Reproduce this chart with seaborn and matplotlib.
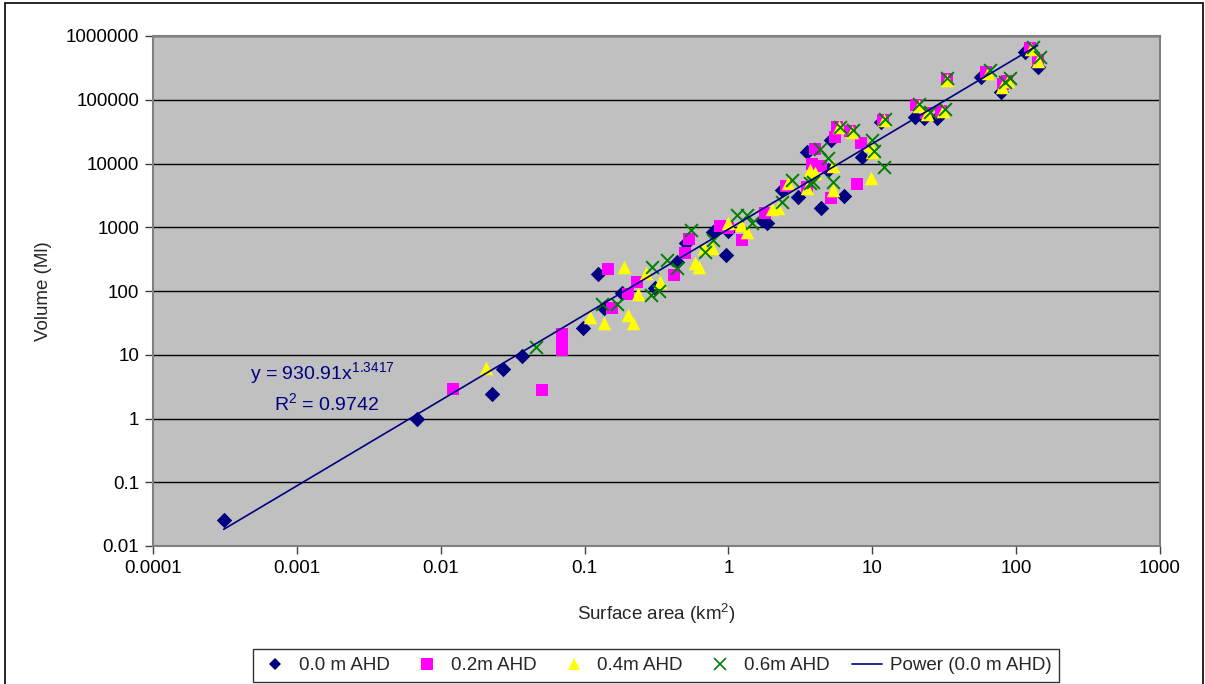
import numpy as np
import pandas as pd
import matplotlib
matplotlib.use("Agg")
import matplotlib.pyplot as plt
import seaborn as sns
from matplotlib.lines import Line2D
from matplotlib.patches import Rectangle
from matplotlib.ticker import FixedLocator, FixedFormatter, NullLocator

# ---------------- data ----------------
area_00 = [0.00031, 0.0068, 0.0227, 0.027, 0.037, 0.097, 0.124, 0.136, 0.182, 0.31,
           0.44, 0.51, 0.78, 0.96, 1.0, 1.7, 1.85, 2.35, 3.03, 3.5, 4.4, 4.95, 5.2,
           6.4, 8.5, 11.5, 19.8, 23, 28, 57, 78, 115, 141]
vol_00 = [0.026, 1.0, 2.4, 6.0, 9.5, 26, 185, 54, 93, 110,
          285, 570, 840, 367, 870, 1300, 1150, 3800, 2980, 15000, 2000, 8000, 23000,
          3100, 12600, 45000, 54000, 52000, 52000, 230000, 132000, 560000, 330000]

area_02 = [0.0122, 0.0505, 0.07, 0.07, 0.07, 0.145, 0.155, 0.2, 0.23, 0.42, 0.50,
           0.53, 0.87, 1.0, 1.24, 1.8, 2.5, 3.5, 3.8, 4.0, 4.4, 5.2, 5.5, 5.7, 7.0,
           7.8, 8.3, 11.8, 20, 23.6, 30, 33, 62, 81, 86, 124, 141]
vol_02 = [2.9, 2.8, 21, 15, 12, 221, 54, 90, 138, 178, 400,
          650, 1050, 970, 630, 1700, 4400, 4300, 10000, 17000, 9300, 2900, 26000, 37000, 32000,
          4800, 21000, 48000, 83000, 62000, 66000, 210000, 275000, 175000, 200000, 640000, 420000]

area_04 = [0.0206, 0.109, 0.136, 0.188, 0.2, 0.217, 0.234, 0.267, 0.333, 0.59, 0.62,
           0.68, 0.77, 1.0, 1.22, 1.35, 2.0, 2.2, 2.6, 3.5, 3.7, 4.0, 5.3, 5.3, 5.9,
           7.2, 9.6, 10, 9.8, 12, 21, 24, 31, 33, 64, 80, 88, 126, 143]
vol_04 = [6.2, 39, 32, 238, 42, 31.5, 90, 191, 138, 275, 240,
          480, 470, 1150, 1100, 840, 1900, 2000, 5000, 4200, 8000, 7000, 3800, 9300, 37000,
          31000, 19500, 15000, 6000, 48000, 80000, 60000, 67000, 205000, 265000, 160000, 195000, 620000, 410000]

area_06 = [0.046, 0.133, 0.168, 0.29, 0.294, 0.33, 0.373, 0.438, 0.548, 0.69, 0.78,
           1.15, 1.35, 1.45, 2.35, 2.75, 3.7, 3.9, 4.3, 4.9, 5.3, 6.0, 7.3, 10, 10.3,
           12, 12.2, 21, 25, 32, 33, 66, 83, 90, 130, 146]
vol_06 = [13.2, 62, 62, 85, 238, 100, 306, 233, 906, 410, 620,
          1560, 1560, 1150, 2490, 5500, 5000, 5200, 17000, 12000, 5200, 37000, 33000, 23000, 15500,
          8800, 50000, 85000, 65000, 72000, 220000, 290000, 190000, 220000, 680000, 460000]

series_names = ["0.0 m AHD", "0.2m AHD", "0.4m AHD", "0.6m AHD"]
trend_name = "Power (0.0 m AHD)"
fit_a = 930.91
fit_b = 1.3417
fit_r2 = 0.9742

x_ticks = [0.0001, 0.001, 0.01, 0.1, 1, 10, 100, 1000]
x_tick_labels = ["0.0001", "0.001", "0.01", "0.1", "1", "10", "100", "1000"]
y_ticks = [0.01, 0.1, 1, 10, 100, 1000, 10000, 100000, 1000000]
y_tick_labels = ["0.01", "0.1", "1", "10", "100", "1000", "10000", "100000", "1000000"]

# ---------------- style ----------------
sns.set_theme(style="white")
plt.rcParams["font.family"] = ["Liberation Sans", "DejaVu Sans"]
plt.rcParams["mathtext.default"] = "regular"

FS = 13.5
colors = ["#000080", "#FF00FF", "#FFFF00", "#008000"]
markers = ["D", "s", "^", "x"]
sizes = [62, 70, 95, 85]

fig = plt.figure(figsize=(12.05, 6.84), dpi=100)
fig.patch.set_facecolor("white")
ax = fig.add_axes([153 / 1205, 1 - 546 / 684, (1160 - 153) / 1205, (546 - 36) / 684])
ax.set_facecolor("#C0C0C0")

frames = []
for name, xs, ys in zip(series_names, [area_00, area_02, area_04, area_06],
                        [vol_00, vol_02, vol_04, vol_06]):
    frames.append(pd.DataFrame({"area": xs, "volume": ys, "series": name}))
df = pd.concat(frames, ignore_index=True)

for name, c, m, s in zip(series_names, colors, markers, sizes):
    sub = df[df["series"] == name]
    if m == "x":
        sns.scatterplot(data=sub, x="area", y="volume", ax=ax, color=c, marker=m,
                        s=s, linewidth=1.4, zorder=3, legend=False)
    else:
        sns.scatterplot(data=sub, x="area", y="volume", ax=ax, color=c, marker=m,
                        s=s, linewidth=0, zorder=3, legend=False)

# power trendline through the 0.0 m AHD data range
fit_x = np.geomspace(min(area_00), max(area_00), 200)
fit_y = fit_a * fit_x ** fit_b
ax.plot(fit_x, fit_y, color="#000080", lw=1.2, zorder=4)

ax.set_xscale("log")
ax.set_yscale("log")
ax.set_xlim(1e-4, 1e3)
ax.set_ylim(1e-2, 1e6)
ax.xaxis.set_major_locator(FixedLocator(x_ticks))
ax.xaxis.set_major_formatter(FixedFormatter(x_tick_labels))
ax.yaxis.set_major_locator(FixedLocator(y_ticks))
ax.yaxis.set_major_formatter(FixedFormatter(y_tick_labels))
ax.xaxis.set_minor_locator(NullLocator())
ax.yaxis.set_minor_locator(NullLocator())

ax.grid(True, axis="y", color="black", lw=1.0)
ax.grid(False, axis="x")
ax.set_axisbelow(True)

for side in ["top", "right", "left", "bottom"]:
    ax.spines[side].set_color("#808080")
    ax.spines[side].set_linewidth(1.5)

ax.tick_params(axis="both", which="major", direction="out", length=6, width=1,
               color="#404040", labelsize=FS, labelcolor="black", pad=4,
               left=True, bottom=True)

ax.set_xlabel("Surface area (km$^{2}$)", fontsize=FS, labelpad=18)
ax.set_ylabel("Volume (Ml)", fontsize=FS, labelpad=10)

ax.text(0.168, 0.339, "y = 930.91x$^{1.3417}$", transform=ax.transAxes, ha="center",
        va="center", fontsize=FS + 0.5, color="#000080")
ax.text(0.172, 0.280, "R$^{2}$ = %.4f" % fit_r2, transform=ax.transAxes, ha="center",
        va="center", fontsize=FS + 0.5, color="#000080")

handles = [
    Line2D([], [], ls="none", marker="D", color=colors[0], markersize=6.5, markeredgewidth=0),
    Line2D([], [], ls="none", marker="s", color=colors[1], markersize=8, markeredgewidth=0),
    Line2D([], [], ls="none", marker="^", color=colors[2], markersize=9, markeredgewidth=0),
    Line2D([], [], ls="none", marker="x", color=colors[3], markersize=8, markeredgewidth=1.2),
    Line2D([], [], color="#000080", lw=1.2),
]
leg = fig.legend(handles, series_names + [trend_name], loc="center",
                 bbox_to_anchor=(656 / 1205, 1 - 665.5 / 684), ncol=5, frameon=True,
                 fontsize=FS, handlelength=1.6, handletextpad=0.45, columnspacing=1.2,
                 borderpad=0.4, fancybox=False, edgecolor="black")
leg.get_frame().set_linewidth(1.0)

fig.patches.append(Rectangle((5 / 1205, -0.01), 1198 / 1205, 1 - 3 / 684 + 0.01,
                             transform=fig.transFigure, fill=False, edgecolor="black",
                             lw=1.2, zorder=10))

fig.savefig("out.png", dpi=100)
